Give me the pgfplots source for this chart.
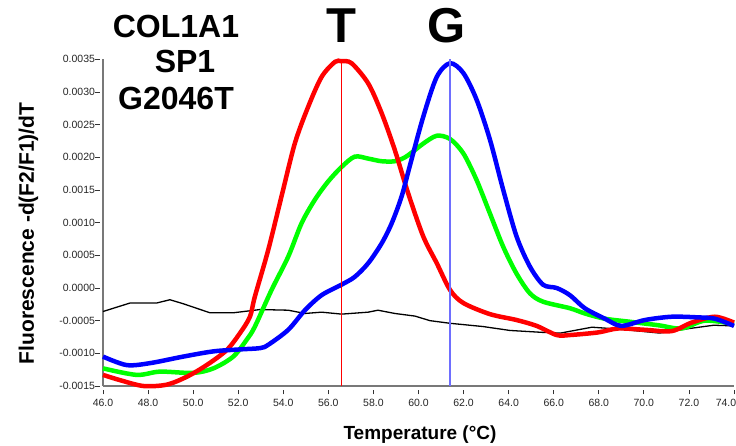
\documentclass[border=0pt]{standalone}
\usepackage{pgfplots}
\pgfplotsset{compat=1.18}
\usepackage{fontspec}
\setmainfont{Liberation Sans}

\definecolor{cRed}{RGB}{255,0,0}
\definecolor{cGreen}{RGB}{0,255,0}
\definecolor{cBlue}{RGB}{0,0,255}
\definecolor{cLine}{RGB}{110,110,255}
\definecolor{cAxis}{RGB}{120,120,120}

\begin{document}
\begin{tikzpicture}
\useasboundingbox (-103pt,-60pt) rectangle (633pt,386pt);
\begin{axis}[
  at={(0pt,0pt)}, anchor=south west,
  scale only axis, width=631pt, height=326.7pt,
  xmin=46, xmax=74, ymin=-0.0015, ymax=0.0035,
  clip=false,
  axis x line=bottom, axis y line=left,
  axis line style={-, draw=cAxis, line width=1.3pt},
  xtick={46,48,50,52,54,56,58,60,62,64,66,68,70,72,74},
  xticklabels={46.0,48.0,50.0,52.0,54.0,56.0,58.0,60.0,62.0,64.0,66.0,68.0,70.0,72.0,{\hspace*{-16pt}74.0}},
  ytick={-0.0015,-0.001,-0.0005,0,0.0005,0.001,0.0015,0.002,0.0025,0.003,0.0035},
  tick align=outside, major tick length=4.5pt,
  xtick style={draw=black!80, line width=0.8pt, yshift=-4pt},
  ytick style={draw=black!80, line width=0.8pt, xshift=-3pt},
  scaled y ticks=false, scaled x ticks=false,
  /pgf/number format/assume math mode=true,
  xticklabel style={font=\fontsize{10.5}{12}\selectfont, text=black!85, yshift=-5pt},
  yticklabel style={font=\fontsize{10.5}{12}\selectfont, text=black!85,
    /pgf/number format/.cd, fixed, fixed zerofill, precision=4},
]
% no-template trace
\addplot[black, line width=1.3pt] table {
46.0  -0.00036
47.2  -0.00023
48.38 -0.00023
48.97 -0.00018
49.55 -0.00024
50.75 -0.00038
51.77 -0.00038
52.97 -0.00033
54.22 -0.00034
54.96 -0.00039
55.70 -0.00037
56.59 -0.00040
57.77 -0.00037
58.2  -0.00034
58.95 -0.00039
59.84 -0.00043
60.51 -0.00050
61.39 -0.00054
62.86 -0.00059
64.06 -0.00065
65.53 -0.00068
66.3  -0.00069
67.7  -0.00060
68.9  -0.00063
70.7  -0.00069
71.6  -0.00064
73.1  -0.00057
74.0  -0.00058
};
% heterozygous
\addplot[cGreen, line width=4.5pt, smooth] table {
46.0  -0.00123
47.49 -0.00133
48.53 -0.00128
50.0  -0.00130
50.90 -0.00123
51.78 -0.00105
52.38 -0.00079
52.74 -0.00059
53.48 -0.00003
54.22  0.00048
54.81  0.00099
55.40  0.00135
55.99  0.00163
56.58  0.00185
57.17  0.00201
57.77  0.00198
58.36  0.00194
58.95  0.00194
59.40  0.00200
59.84  0.00211
60.21  0.00221
60.81  0.00233
61.40  0.00228
61.99  0.00206
62.58  0.00165
63.17  0.00114
63.76  0.00063
64.35  0.00022
64.94 -0.00008
65.53 -0.00021
66.72 -0.00031
67.38 -0.00039
68.27 -0.00047
69.45 -0.00052
70.64 -0.00057
71.67 -0.00062
72.71 -0.00050
74.0  -0.00055
};
% TT
\addplot[cRed, line width=4.5pt, smooth] table {
46.0  -0.00133
46.75 -0.00141
47.79 -0.00150
48.82 -0.00148
49.71 -0.00136
50.60 -0.00118
51.49 -0.00095
52.08 -0.00069
52.52 -0.00044
52.74 -0.00013
53.33  0.00058
53.92  0.00140
54.51  0.00221
55.10  0.00277
55.70  0.00323
56.29  0.00346
56.58  0.00347
57.03  0.00344
57.77  0.00313
58.36  0.00268
58.95  0.00211
59.54  0.00145
60.21  0.00079
60.81  0.00038
61.40 -0.00003
61.99 -0.00023
63.17 -0.00040
64.35 -0.00049
65.24 -0.00058
66.13 -0.00072
66.72 -0.00072
67.97 -0.00068
68.86 -0.00062
70.05 -0.00064
71.23 -0.00066
72.12 -0.00053
73.15 -0.00044
74.0  -0.00053
};
% GG
\addplot[cBlue, line width=4.5pt, smooth] table {
46.0  -0.00105
47.05 -0.00118
48.09 -0.00115
49.56 -0.00105
50.90 -0.00097
52.08 -0.00094
52.97 -0.00092
53.33 -0.00087
54.22 -0.00064
54.96 -0.00034
55.70 -0.00011
56.58  0.00005
57.17  0.00017
57.77  0.00038
58.36  0.00068
58.81  0.00099
59.25  0.00140
59.60  0.00185
60.21  0.00262
60.81  0.00323
61.40  0.00344
61.99  0.00329
62.58  0.00288
63.17  0.00227
63.76  0.00150
64.35  0.00079
64.94  0.00033
65.53  0.00005
66.13  0.00000
66.72 -0.00011
67.38 -0.00031
68.27 -0.00047
69.0  -0.00058
70.05 -0.00049
71.23 -0.00044
72.41 -0.00045
73.15 -0.00047
74.0  -0.00058
};
% peak markers
\addplot[color=red, line width=1.4pt] coordinates {(56.59,-0.0015) (56.59,0.0035)};
\addplot[color=cLine, line width=1.5pt] coordinates {(61.39,-0.0015) (61.39,0.0035)};
\end{axis}
\node[anchor=base, font=\bfseries\fontsize{32}{32}\selectfont] at (73pt,348pt) {COL1A1};
\node[anchor=base, font=\bfseries\fontsize{32}{32}\selectfont] at (82pt,313pt) {SP1};
\node[anchor=base, font=\bfseries\fontsize{32}{32}\selectfont] at (73pt,276pt) {G2046T};
\node[anchor=base, font=\bfseries\fontsize{49}{49}\selectfont] at (238pt,343pt) {T};
\node[anchor=base, font=\bfseries\fontsize{49}{49}\selectfont] at (344pt,343pt) {G};
\node[anchor=base, font=\bfseries\fontsize{19}{19}\selectfont] at (317pt,-54pt) {Temperature (°C)};
\node[anchor=base, rotate=90, font=\bfseries\fontsize{21}{21}\selectfont] at (-69pt,152.5pt) {Fluorescence -d(F2/F1)/dT};
\end{tikzpicture}
\end{document}
